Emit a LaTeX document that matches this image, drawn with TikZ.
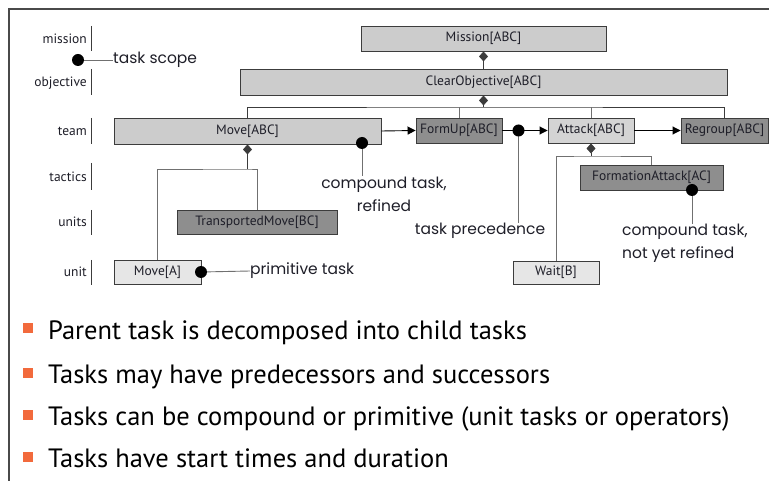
\documentclass[tikz,border=0pt]{standalone}
\usepackage{fontspec}
\setmainfont{PT Sans}
\newfontfamily\boxfont{PT Sans}
\newfontfamily\notefont{Poppins}
\newfontfamily\bulletfont{PT Sans}
\usetikzlibrary{arrows.meta,shapes.geometric,calc}

\definecolor{boxline}{HTML}{3C3C3C}
\definecolor{midfill}{HTML}{CCCCCC}
\definecolor{darkfill}{HTML}{8E8E8E}
\definecolor{lightfill}{HTML}{E6E6E6}
\definecolor{attackfill}{HTML}{D4D4D4}
\definecolor{linkgray}{HTML}{707070}
\definecolor{bulletorange}{HTML}{F26A3C}
\definecolor{framegray}{HTML}{4A4A4A}
\definecolor{inktext}{HTML}{1E1E28}

\begin{document}
\begin{tikzpicture}[x=1pt,y=-1pt,
  task/.style={draw=boxline, line width=0.9pt, inner sep=0pt,
    font=\boxfont\fontsize{13.5}{15}\selectfont, text=inktext},
  midtask/.style={task, fill=midfill},
  darktask/.style={task, fill=darkfill},
  lighttask/.style={task, fill=lightfill},
  layer/.style={anchor=east, inner sep=0pt,
    font=\boxfont\fontsize{13.5}{15}\selectfont, text=inktext},
  layerbar/.style={draw=boxline, line width=0.8pt},
  tree/.style={draw=boxline, line width=0.9pt},
  branch/.style={draw=linkgray, line width=0.9pt},
  prec/.style={draw=black, line width=0.9pt, -{Triangle[length=8pt,width=8pt]}},
  holder/.style={-{Diamond[length=10pt,width=9pt]}},
  note/.style={inner sep=0pt, font=\notefont\fontsize{15.5}{23}\selectfont, text=inktext},
  pin/.style={draw=linkgray, line width=0.9pt},
  bul/.style={anchor=base west, inner sep=0pt,
    font=\bulletfont\fontsize{26.5}{30}\selectfont, text=black},
  bulsq/.style={fill=bulletorange, minimum size=9.5pt, inner sep=0pt}
]
\useasboundingbox (0,0) rectangle (769,481);

% frame
\draw[framegray, line width=1.8pt] (769,9) -- (9,9) -- (9,481);

% layer labels
\node[layer] (lmission)   at (87,39)  {mission};
\node[layer] (lobjective) at (87,83)  {objective};
\node[layer] (lteam)      at (87,131) {team};
\node[layer] (ltactics)   at (87,177) {tactics};
\node[layer] (lunits)     at (87,222) {units};
\node[layer] (lunit)      at (87,272) {unit};
\draw[layerbar] (91,26)  -- (91,51);
\draw[layerbar] (91,69)  -- (91,95);
\draw[layerbar] (91,118) -- (91,144);
\draw[layerbar] (91,163) -- (91,190);
\draw[layerbar] (91,210) -- (91,235);
\draw[layerbar] (91,260) -- (91,285);

% task boxes
\node[midtask,   minimum width=245, minimum height=25] (mission) at (483.5,38.5) {Mission[ABC]};
\node[midtask,   minimum width=487, minimum height=26] (clear)   at (483.5,82)   {ClearObjective[ABC]};
\node[midtask,   minimum width=267, minimum height=26] (move)    at (247.5,131)  {Move[ABC]};
\node[darktask,  minimum width=86,  minimum height=25] (formup)  at (459,130.5)  {FormUp[ABC]};
\node[task, fill=attackfill, minimum width=86, minimum height=25] (attack) at (591,130.5) {Attack[ABC]};
\node[darktask,  minimum width=87,  minimum height=25] (regroup) at (724.5,130.5) {Regroup[ABC]};
\node[darktask,  minimum width=160, minimum height=24] (transp)  at (257,222)    {TransportedMove[BC]};
\node[lighttask, minimum width=87,  minimum height=24] (movea)   at (157.5,272)  {Move[A]};
\node[darktask,  minimum width=143, minimum height=25] (formatt) at (651.5,177.5) {FormationAttack[AC]};
\node[lighttask, minimum width=86,  minimum height=23] (wait)    at (556,272.5)  {Wait[B]};

% decomposition: mission -> objective
\draw[tree, holder] (clear.north) -- (mission.south);

% decomposition: objective -> team tasks
\coordinate (cbus) at (483.5,107);
\draw[tree, holder] (cbus) -- (clear.south);
\draw[tree] (move.north) |- (cbus) -| (regroup.north);
\draw[branch] (formup.north) -- (formup.north |- cbus);
\draw[branch] (attack.north) -- (attack.north |- cbus);

% decomposition: Move[ABC]
\coordinate (mbus) at (247.5,169);
\draw[tree, holder] (mbus) -- (move.south);
\draw[branch] (movea.north) |- (mbus) -| (transp.north);

% decomposition: Attack[ABC]
\coordinate (abus) at (591,156);
\draw[tree, holder] (abus) -- (attack.south);
\draw[branch] (wait.north) |- (abus) -| (formatt.north);

% precedence arrows
\draw[prec] (move.east) -- (formup.west);
\draw[prec] (formup.east) -- (attack.west);
\draw[prec] (attack.east) -- (regroup.west);

% annotations
\coordinate (scopedot) at (78,60);
\node[note, anchor=west] (scope) at (113,60) {task scope};
\draw[pin] (scopedot) -- (scope.west);
\fill (scopedot) circle (6);

\coordinate (refdot) at (362,143);
\node[note, align=center] (refined) at (384,194) {compound task,\\refined};
\draw[pin] (refdot) -- (refdot |- refined.north);
\fill (refdot) circle (6);

\coordinate (precdot) at (518.5,130.5);
\node[note] (precnote) at (480,231) {task precedence};
\draw[pin] (precdot) -- (precdot |- precnote.north);
\fill (precdot) circle (6);

\coordinate (opendot) at (692,190);
\node[note, align=left, anchor=west] (open) at (622,243.5) {compound task,\\not yet refined};
\draw[pin] (opendot) -- (opendot |- open.north);
\fill (opendot) circle (6);

\coordinate (primdot) at (201,272);
\node[note, anchor=west] (prim) at (250,271) {primitive task};
\draw[pin] (primdot) -- (prim.west);
\fill (primdot) circle (6);

% bullet list
\node[bulsq] (s1) at (28,328) {};
\node[bulsq] (s2) at (28,373) {};
\node[bulsq] (s3) at (28,415) {};
\node[bulsq] (s4) at (28,457) {};
\node[bul] (b1) at (48,339) {Parent task is decomposed into child tasks};
\node[bul] (b2) at (48,383) {Tasks may have predecessors and successors};
\node[bul] (b3) at (48,425) {Tasks can be compound or primitive (unit tasks or operators)};
\node[bul] (b4) at (48,467) {Tasks have start times and duration};
\end{tikzpicture}
\end{document}
